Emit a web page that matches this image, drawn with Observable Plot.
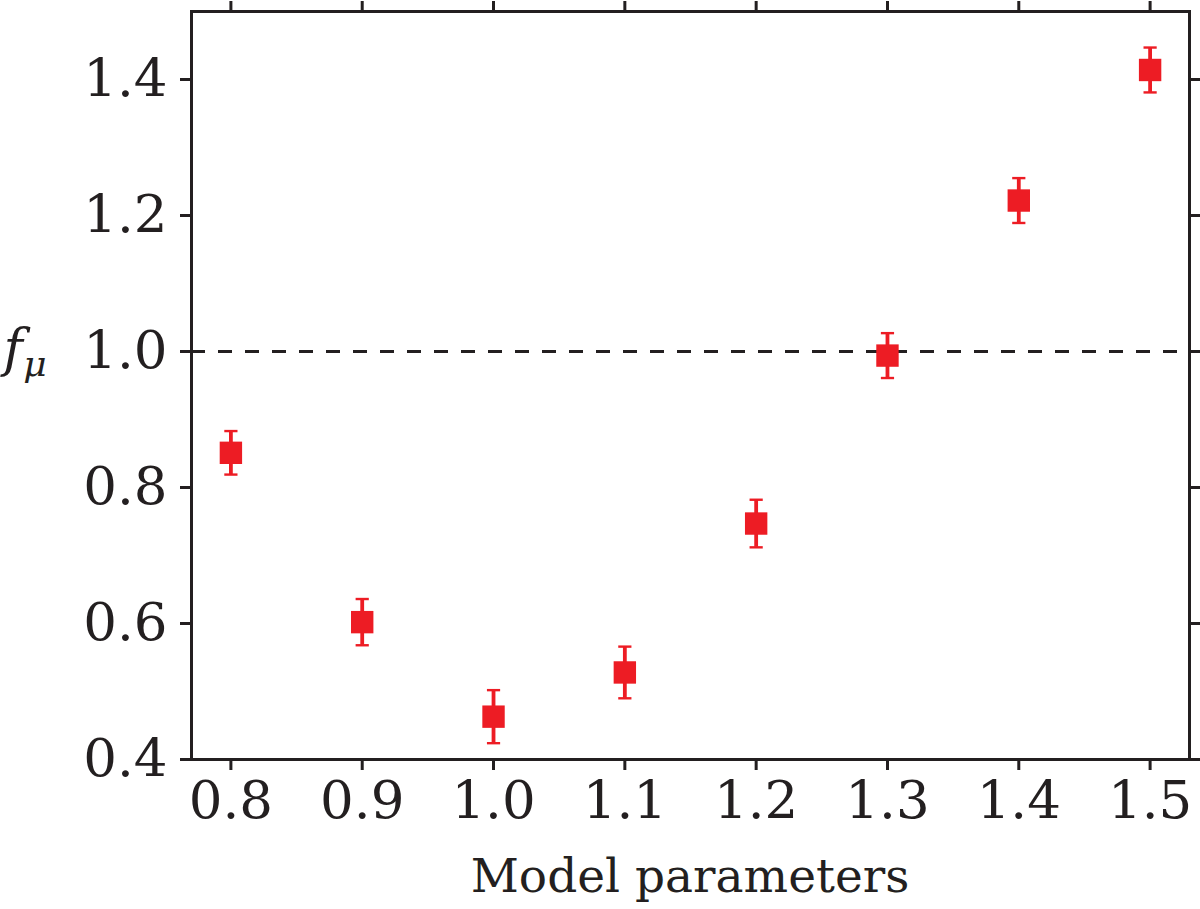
<!DOCTYPE html>
<html><head><meta charset="utf-8">
<script src="https://cdn.jsdelivr.net/npm/d3@7"></script>
<script src="https://cdn.jsdelivr.net/npm/@observablehq/plot@0.6"></script>
<style>body{margin:0;background:#fff} svg{display:block}</style>
</head><body><div id="chart"></div>
<script>
const params = [0.8, 0.9, 1.0, 1.1, 1.2, 1.3, 1.4, 1.5];
const fmu = [0.851, 0.602, 0.463, 0.528, 0.747, 0.994, 1.222, 1.414];
const fmuErr = [0.032, 0.034, 0.039, 0.038, 0.035, 0.033, 0.033, 0.033];
const xTicks = [0.8, 0.9, 1.0, 1.1, 1.2, 1.3, 1.4, 1.5];
const yTicks = [0.4, 0.6, 0.8, 1.0, 1.2, 1.4];
const refLine = [1.0];
const xLabel = "Model parameters";
const yLabelMain = "f";
const yLabelSub = "μ";

const data = params.map((p, i) => ({x: p, y: fmu[i], lo: fmu[i] - fmuErr[i], hi: fmu[i] + fmuErr[i]}));

const red = "#ed1c24";
const ink = "#231f20";
const squareSym = {draw(ctx, size) { const r = Math.sqrt(size / Math.PI); ctx.rect(-r, -r, 2 * r, 2 * r); }};
const capSym = {draw(ctx, size) { const r = Math.sqrt(size / Math.PI); ctx.moveTo(-r, 0); ctx.lineTo(r, 0); }};

const fmt = d => d.toFixed(1);
const chart = Plot.plot({
  width: 1200, height: 909,
  marginLeft: 191, marginRight: 11, marginTop: 11, marginBottom: 150,
  x: {domain: [0.77, 1.53]},
  y: {domain: [0.4, 1.5]},
  style: {fontFamily: "DejaVu Serif", fontSize: "52px", color: ink, background: "#fff"},
  marks: [
    Plot.ruleY(refLine, {y: d => d, stroke: ink, strokeWidth: 3, strokeDasharray: "14,13"}),
    Plot.ruleX(data, {x: "x", y1: "lo", y2: "hi", stroke: red, strokeWidth: 3.8}),
    Plot.dot(data, {x: "x", y: "lo", symbol: capSym, r: 6.6, stroke: red, strokeWidth: 2.4, fill: "none"}),
    Plot.dot(data, {x: "x", y: "hi", symbol: capSym, r: 6.6, stroke: red, strokeWidth: 2.4, fill: "none"}),
    Plot.dot(data, {x: "x", y: "y", symbol: squareSym, r: 11.2, fill: red, stroke: "none"}),
    Plot.frame({stroke: ink, strokeWidth: 3}),
    Plot.axisX(xTicks, {anchor: "bottom", tickSize: 11, tickPadding: 10, strokeWidth: 3, label: null, tickFormat: fmt, fontSize: 53}),
    Plot.axisX(xTicks, {anchor: "top", tickSize: 11, strokeWidth: 3, label: null, tickFormat: () => ""}),
    Plot.axisY(yTicks, {anchor: "left", tickSize: 11, tickPadding: 13, strokeWidth: 3, label: null, tickFormat: fmt, fontSize: 53}),
    Plot.axisY(yTicks, {anchor: "right", tickSize: 11, strokeWidth: 3, label: null, tickFormat: () => ""})
  ]
});
document.getElementById("chart").appendChild(chart);

const svg = d3.select(chart);
svg.append("text")
  .attr("x", 690).attr("y", 892)
  .attr("text-anchor", "middle")
  .attr("font-family", "DejaVu Serif").attr("font-size", 47).attr("fill", ink)
  .text(xLabel);
svg.append("text")
  .attr("x", 13).attr("y", 366)
  .attr("font-family", "DejaVu Serif").attr("font-style", "italic").attr("font-size", 52).attr("fill", ink)
  .text(yLabelMain);
svg.append("text")
  .attr("x", 35).attr("y", 376)
  .attr("font-family", "DejaVu Serif").attr("font-style", "italic").attr("font-size", 36).attr("fill", ink)
  .text(yLabelSub);
</script>
</body></html>
